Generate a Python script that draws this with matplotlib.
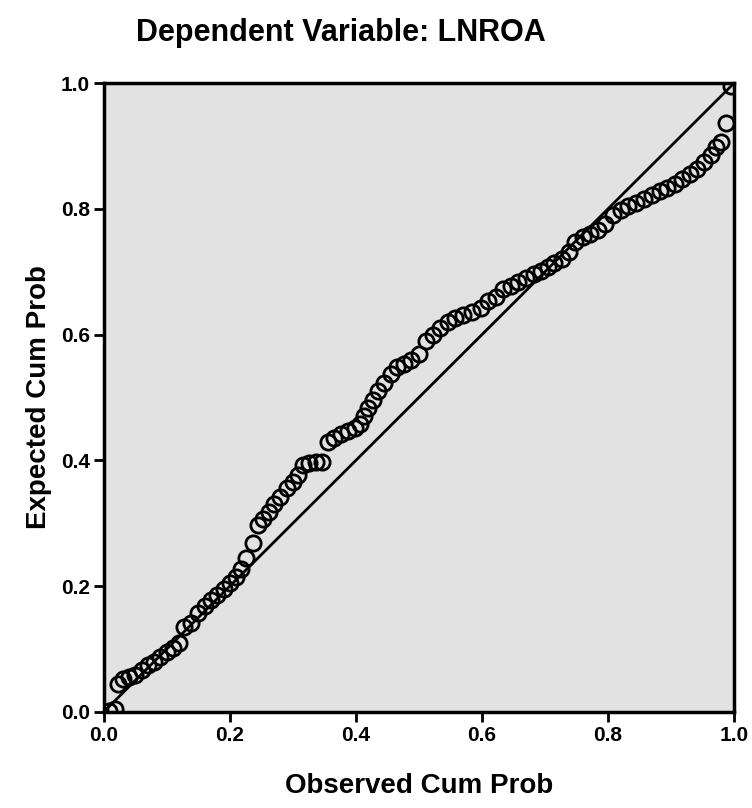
import matplotlib
matplotlib.use("Agg")
import matplotlib.pyplot as plt

plt.rcParams['font.family'] = ['Liberation Sans', 'DejaVu Sans']

# observed vs expected cumulative probability
observed = [0.008, 0.018, 0.022, 0.030, 0.040, 0.050, 0.060, 0.070, 0.080, 0.090,
            0.100, 0.110, 0.120, 0.128, 0.138, 0.150, 0.160, 0.170, 0.180, 0.190,
            0.200, 0.210, 0.218, 0.226, 0.237, 0.244, 0.253, 0.262, 0.270, 0.279,
            0.290, 0.300, 0.308, 0.316, 0.326, 0.336, 0.346, 0.356, 0.366, 0.376,
            0.388, 0.398, 0.407, 0.413, 0.419, 0.427, 0.435, 0.445, 0.455, 0.465,
            0.476, 0.487, 0.500, 0.512, 0.522, 0.534, 0.546, 0.558, 0.570, 0.584,
            0.598, 0.610, 0.622, 0.634, 0.646, 0.658, 0.670, 0.682, 0.694, 0.705,
            0.715, 0.727, 0.738, 0.748, 0.760, 0.772, 0.784, 0.796, 0.808, 0.820,
            0.832, 0.845, 0.858, 0.870, 0.882, 0.894, 0.906, 0.918, 0.930, 0.942,
            0.953, 0.963, 0.972, 0.980, 0.988, 0.996]
expected = [0.002, 0.004, 0.045, 0.052, 0.056, 0.058, 0.066, 0.074, 0.080, 0.088,
            0.096, 0.101, 0.110, 0.135, 0.142, 0.158, 0.168, 0.178, 0.186, 0.196,
            0.205, 0.214, 0.228, 0.245, 0.268, 0.298, 0.306, 0.318, 0.330, 0.342,
            0.356, 0.366, 0.377, 0.392, 0.396, 0.397, 0.398, 0.430, 0.436, 0.442,
            0.447, 0.452, 0.458, 0.470, 0.483, 0.496, 0.511, 0.523, 0.538, 0.548,
            0.554, 0.560, 0.570, 0.590, 0.600, 0.610, 0.620, 0.626, 0.631, 0.636,
            0.642, 0.654, 0.660, 0.672, 0.678, 0.684, 0.690, 0.696, 0.702, 0.708,
            0.714, 0.720, 0.732, 0.748, 0.756, 0.760, 0.766, 0.776, 0.790, 0.798,
            0.804, 0.810, 0.816, 0.822, 0.828, 0.834, 0.840, 0.848, 0.856, 0.864,
            0.874, 0.886, 0.898, 0.906, 0.936, 0.996]

ticks = [0.0, 0.2, 0.4, 0.6, 0.8, 1.0]
tick_labels = ['0.0', '0.2', '0.4', '0.6', '0.8', '1.0']

fig = plt.figure(figsize=(7.52, 8.08), dpi=100)
ax = fig.add_axes([0.138, 0.119, 0.838, 0.778])
ax.set_facecolor('#e2e2e2')

ax.plot([0, 1], [0, 1], color='black', lw=2, zorder=2)
ax.plot(observed, expected, linestyle='none', marker='o', markersize=11,
        markerfacecolor='none', markeredgecolor='black', markeredgewidth=2,
        zorder=3)

ax.set_xlim(0, 1)
ax.set_ylim(0, 1)
ax.set_xticks(ticks)
ax.set_xticklabels(tick_labels, fontweight='bold')
ax.set_yticks(ticks)
ax.set_yticklabels(tick_labels, fontweight='bold')
ax.tick_params(direction='out', length=7, width=2, labelsize=15, pad=3)
for s in ax.spines.values():
    s.set_linewidth(2.5)

ax.set_xlabel('Observed Cum Prob', fontsize=20, fontweight='bold', labelpad=20)
ax.set_ylabel('Expected Cum Prob', fontsize=20, fontweight='bold', labelpad=6)
fig.text(0.453, 0.959, 'Dependent Variable: LNROA', fontsize=22,
         fontweight='bold', ha='center', va='center')

fig.savefig('out.png', dpi=100)
